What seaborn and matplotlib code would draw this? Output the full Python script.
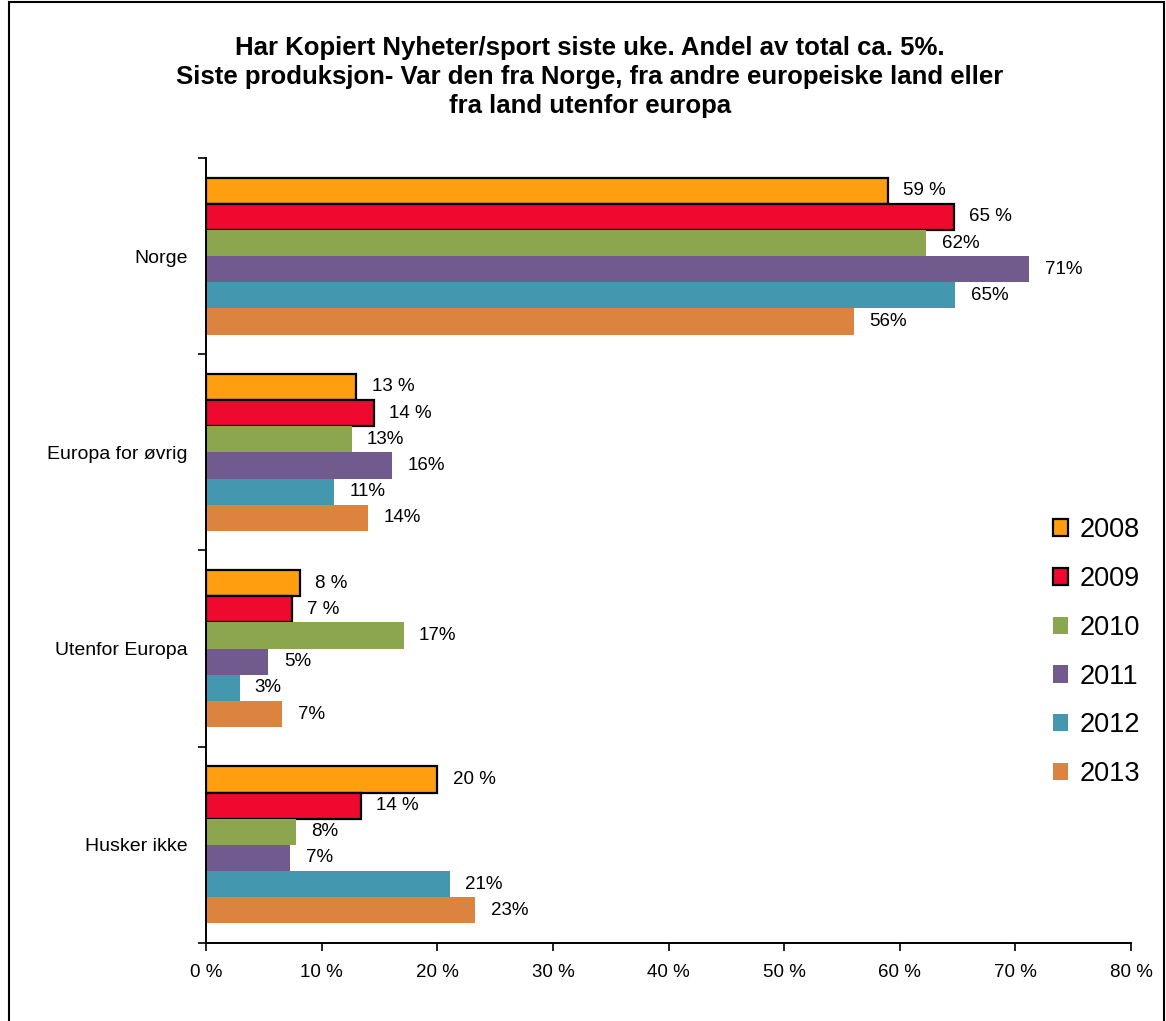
import pandas as pd
import seaborn as sns
import matplotlib.pyplot as plt
from matplotlib.patches import Patch, Rectangle

# values (percent)
categories = ['Norge', 'Europa for øvrig', 'Utenfor Europa', 'Husker ikke']
years = ['2008', '2009', '2010', '2011', '2012', '2013']
v2008 = [59.0, 13.0, 8.1, 20.0]
v2009 = [64.7, 14.5, 7.4, 13.4]
v2010 = [62.3, 12.6, 17.1, 7.8]
v2011 = [71.2, 16.1, 5.4, 7.3]
v2012 = [64.8, 11.1, 2.9, 21.1]
v2013 = [56.0, 14.0, 6.6, 23.3]
labels2008 = ['59 %', '13 %', '8 %', '20 %']
labels2009 = ['65 %', '14 %', '7 %', '14 %']
labels2010 = ['62%', '13%', '17%', '8%']
labels2011 = ['71%', '16%', '5%', '7%']
labels2012 = ['65%', '11%', '3%', '21%']
labels2013 = ['56%', '14%', '7%', '23%']
tick_labels = ['0 %', '10 %', '20 %', '30 %', '40 %', '50 %', '60 %', '70 %', '80 %']

colors = ['#FF9F10', '#F0092E', '#8BA64F', '#715A8E', '#4398B0', '#DC843F']
all_vals = [v2008, v2009, v2010, v2011, v2012, v2013]
all_labels = [labels2008, labels2009, labels2010, labels2011, labels2012, labels2013]

rows = []
for y, vals in zip(years, all_vals):
    for c, v in zip(categories, vals):
        rows.append({'kategori': c, 'aar': y, 'andel': v})
df = pd.DataFrame(rows)

sns.set_theme(style='white')
plt.rcParams['font.family'] = ['Liberation Sans', 'DejaVu Sans']
plt.rcParams['text.color'] = 'black'

fig = plt.figure(figsize=(11.66, 10.21), dpi=100)
ax = fig.add_axes([206/1166, 1 - 943/1021, 925/1166, 785/1021])

sns.barplot(data=df, y='kategori', x='andel', hue='aar', order=categories,
            hue_order=years, palette=colors, orient='h', width=0.8,
            saturation=1, ax=ax, legend=False, errorbar=None)

for i, cont in enumerate(ax.containers):
    for bar in cont:
        if i < 2:
            bar.set_edgecolor('black')
            bar.set_linewidth(1.6)
        else:
            bar.set_edgecolor('none')
    ax.bar_label(cont, labels=all_labels[i], padding=11, fontsize=13.5, color='black')

ax.set_xlim(0, 80)
ax.set_ylim(3.5, -0.5)
ax.set_xticks(range(0, 81, 10))
ax.set_xticklabels(tick_labels, fontsize=13.5)
ax.set_yticks(range(len(categories)))
ax.set_yticklabels(categories, fontsize=14)
ax.set_yticks([-0.5, 0.5, 1.5, 2.5, 3.5], minor=True)
ax.tick_params(axis='y', which='major', length=0, pad=13, labelcolor='black')
ax.tick_params(axis='y', which='minor', length=6, width=1.2, color='black', direction='out', left=True)
ax.tick_params(axis='x', length=6, width=1.2, color='black', direction='out', bottom=True, pad=9,
               labelcolor='black')
ax.set_xlabel('')
ax.set_ylabel('')
for s in ['top', 'right']:
    ax.spines[s].set_visible(False)
for s in ['left', 'bottom']:
    ax.spines[s].set_color('black')
    ax.spines[s].set_linewidth(1.4)

handles = []
for i, (y, c) in enumerate(zip(years, colors)):
    if i < 2:
        handles.append(Patch(facecolor=c, edgecolor='black', linewidth=1.6, label=y))
    else:
        handles.append(Patch(facecolor=c, edgecolor='none', label=y))
ax.legend(handles=handles, loc='upper left', bbox_to_anchor=(0.9045, 0.556),
          frameon=False, fontsize=19.5, handlelength=0.55, handleheight=0.6,
          handletextpad=0.4, labelspacing=0.84, borderaxespad=0)

fig.text(0.506, 1 - 77/1021,
         'Har Kopiert Nyheter/sport siste uke. Andel av total ca. 5%.\n'
         'Siste produksjon- Var den fra Norge, fra andre europeiske land eller\n'
         'fra land utenfor europa',
         ha='center', va='center', fontsize=18.5, fontweight='bold', linespacing=1.28,
         color='black')

fig.patches.append(Rectangle((9/1166, -0.01), 1155/1166, 1.01 - 2/1021,
                             transform=fig.transFigure, fill=False,
                             edgecolor='black', linewidth=1.5))

fig.savefig('out.png', dpi=100)
